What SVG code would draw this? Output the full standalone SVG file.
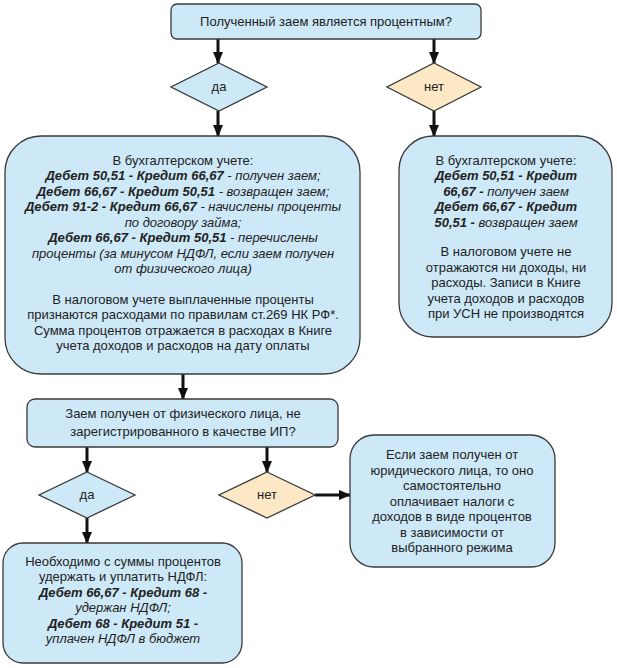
<svg xmlns="http://www.w3.org/2000/svg" width="617" height="668" viewBox="0 0 617 668">
<defs>
<style>
.box{fill:#cde9f8;stroke:#3a3a3a;stroke-width:1.3}
.no{fill:#fde8c6;stroke:#3a3a3a;stroke-width:1.3}
text{font-family:"Liberation Sans",Arial,sans-serif;font-size:13px;fill:#222;text-anchor:middle}
.b{font-weight:bold;font-style:italic}
.i{font-style:italic}
.con{stroke:#111;stroke-width:3;fill:none;marker-end:url(#ah)}
</style>
<marker id="ah" markerUnits="userSpaceOnUse" markerWidth="12" markerHeight="12" viewBox="0 0 12 12" refX="11" refY="6" orient="auto">
<path d="M0,1 L12,6 L0,11 Z" fill="#111"/>
</marker>
</defs>
<rect width="617" height="668" fill="#fff"/>
<g id="connectors">
<line class="con" x1="218" y1="39" x2="218" y2="63"/>
<line class="con" x1="434" y1="39" x2="434" y2="63"/>
<line class="con" x1="218" y1="111" x2="218" y2="136"/>
<line class="con" x1="434" y1="111" x2="434" y2="136"/>
<line class="con" x1="183" y1="374" x2="183" y2="399"/>
<line class="con" x1="87" y1="447" x2="87" y2="472"/>
<line class="con" x1="267" y1="447" x2="267" y2="472"/>
<line class="con" x1="315" y1="495" x2="350" y2="495"/>
<line class="con" x1="87" y1="518" x2="87" y2="543"/>
</g>
<g id="q1">
<rect class="box" x="171" y="4" width="310" height="35" rx="6"/>
<text x="326" y="26">Полученный заем является процентным?</text>
</g>
<g id="d1yes">
<polygon class="box" points="219,63 267,87 219,111 171,87"/>
<text x="219" y="91">да</text>
</g>
<g id="d1no">
<polygon class="no" points="434,63 481,87 434,111 387,87"/>
<text x="434" y="91">нет</text>
</g>
<g id="leftbox">
<rect class="box" x="5" y="136" width="355" height="238" rx="36"/>
<text x="183" y="165">В бухгалтерском учете:</text>
<text x="183" y="180"><tspan class="b">Дебет 50,51 - Кредит 66,67</tspan><tspan class="i"> - получен заем;</tspan></text>
<text x="183" y="196"><tspan class="b">Дебет 66,67 - Кредит 50,51</tspan><tspan class="i"> - возвращен заем;</tspan></text>
<text x="183" y="211"><tspan class="b">Дебет 91-2 - Кредит 66,67</tspan><tspan class="i"> - начислены проценты</tspan></text>
<text x="183" y="227" class="i">по договору займа;</text>
<text x="183" y="242"><tspan class="b">Дебет 66,67 - Кредит 50,51</tspan><tspan class="i"> - перечислены</tspan></text>
<text x="183" y="258" class="i">проценты (за минусом НДФЛ, если заем получен</text>
<text x="183" y="273" class="i">от физического лица)</text>
<text x="183" y="304">В налоговом учете выплаченные проценты</text>
<text x="183" y="319">признаются расходами по правилам ст.269 НК РФ*.</text>
<text x="183" y="335">Сумма процентов отражается в расходах в Книге</text>
<text x="183" y="350">учета доходов и расходов на дату оплаты</text>
</g>
<g id="rightbox">
<rect class="box" x="399" y="136" width="213" height="201" rx="34"/>
<text x="506" y="165">В бухгалтерском учете:</text>
<text x="506" y="180" class="b">Дебет 50,51 - Кредит</text>
<text x="506" y="196"><tspan class="b">66,67 -</tspan><tspan class="i"> получен заем</tspan></text>
<text x="506" y="211" class="b">Дебет 66,67 - Кредит</text>
<text x="506" y="227"><tspan class="b">50,51 -</tspan><tspan class="i"> возвращен заем</tspan></text>
<text x="506" y="256">В налоговом учете не</text>
<text x="506" y="272">отражаются ни доходы, ни</text>
<text x="506" y="287">расходы. Записи в Книге</text>
<text x="506" y="303">учета доходов и расходов</text>
<text x="506" y="318">при УСН не производятся</text>
</g>
<g id="q2">
<rect class="box" x="27" y="399" width="311" height="48" rx="8"/>
<text x="183" y="418">Заем получен от физического лица, не</text>
<text x="183" y="436">зарегистрированного в качестве ИП?</text>
</g>
<g id="d2yes">
<polygon class="box" points="87,472 135,495 87,518 39,495"/>
<text x="87" y="499">да</text>
</g>
<g id="d2no">
<polygon class="no" points="267,472 315,495 267,518 219,495"/>
<text x="267" y="499">нет</text>
</g>
<g id="rightbox2">
<rect class="box" x="350" y="435" width="205" height="132" rx="24"/>
<text x="452" y="459">Если заем получен от</text>
<text x="452" y="475">юридического лица, то оно</text>
<text x="452" y="490">самостоятельно</text>
<text x="452" y="506">оплачивает налоги с</text>
<text x="452" y="521">доходов в виде процентов</text>
<text x="452" y="537">в зависимости от</text>
<text x="452" y="552">выбранного режима</text>
</g>
<g id="bottombox">
<rect class="box" x="3" y="543" width="239" height="120" rx="20"/>
<text x="123" y="566">Необходимо с суммы процентов</text>
<text x="123" y="581">удержать и уплатить НДФЛ:</text>
<text x="123" y="597" class="b">Дебет 66,67 - Кредит 68 -</text>
<text x="123" y="612" class="i">удержан НДФЛ;</text>
<text x="123" y="628" class="b">Дебет 68 - Кредит 51 -</text>
<text x="123" y="643" class="i">уплачен НДФЛ в бюджет</text>
</g>
</svg>
